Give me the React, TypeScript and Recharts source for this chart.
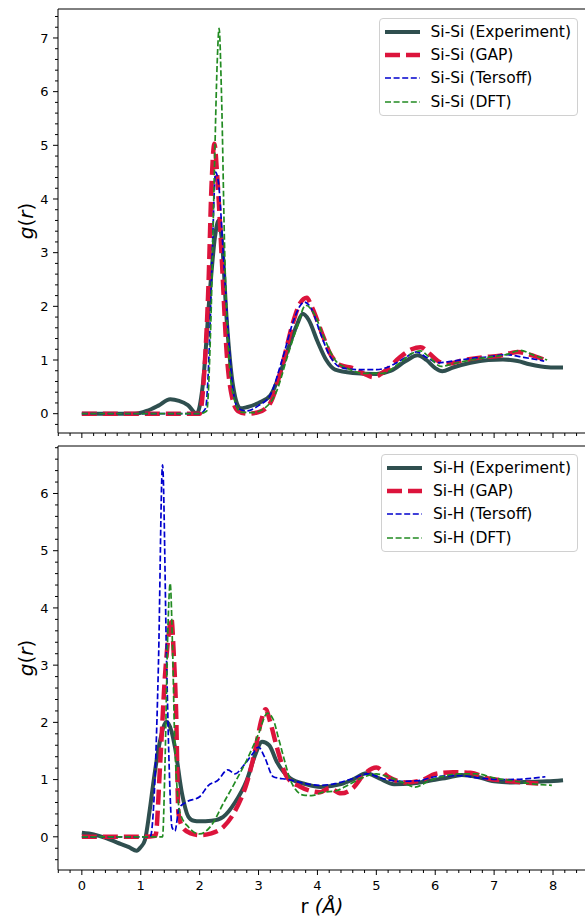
import { LineChart, Line, XAxis, YAxis, ReferenceLine, Legend } from 'recharts'

// ---- Si-Si panel ----
const siSiExpR = [0, 0.5, 0.9, 1.1, 1.3, 1.5, 1.65, 1.8, 1.95, 2.05, 2.18, 2.26, 2.32, 2.38, 2.46, 2.57, 2.69, 2.8, 3.0, 3.2, 3.35, 3.5, 3.65, 3.75, 3.85, 4.0, 4.15, 4.3, 4.6, 5.0, 5.25, 5.5, 5.7, 5.85, 6.0, 6.12, 6.3, 6.6, 6.9, 7.15, 7.4, 7.6, 7.8, 8.0, 8.17]
const siSiExpG = [0, 0, 0, 0.05, 0.15, 0.27, 0.24, 0.16, 0.0, 0.5, 2.36, 3.29, 3.6, 3.2, 1.74, 0.5, 0.1, 0.12, 0.2, 0.34, 0.7, 1.2, 1.65, 1.86, 1.75, 1.35, 1.0, 0.82, 0.76, 0.74, 0.8, 0.98, 1.09, 1.0, 0.85, 0.79, 0.86, 0.95, 1.0, 1.01, 0.98, 0.92, 0.88, 0.86, 0.86]

const siSiGapR = [0, 1.0, 1.5, 2.0, 2.08, 2.15, 2.2, 2.25, 2.3, 2.38, 2.46, 2.55, 2.65, 2.8, 3.0, 3.2, 3.4, 3.6, 3.7, 3.82, 3.9, 4.1, 4.2, 4.4, 4.6, 4.8, 4.95, 5.15, 5.4, 5.6, 5.75, 5.9, 6.05, 6.2, 6.5, 6.8, 7.1, 7.4, 7.6, 7.89]
const siSiGapG = [0, 0, 0, 0, 0.8, 2.4, 4.2, 5.03, 4.4, 2.8, 1.12, 0.31, 0.05, 0.0, 0.03, 0.2, 0.9, 1.75, 2.05, 2.16, 2.0, 1.43, 1.15, 0.9, 0.85, 0.74, 0.68, 0.8, 1.05, 1.2, 1.24, 1.12, 0.98, 0.93, 1.0, 1.05, 1.08, 1.15, 1.1, 0.99]

const siSiTerR = [0, 1.0, 2.0, 2.1, 2.17, 2.22, 2.27, 2.32, 2.4, 2.48, 2.56, 2.65, 2.8, 3.0, 3.2, 3.4, 3.6, 3.7, 3.78, 3.9, 4.05, 4.2, 4.4, 4.7, 5.0, 5.3, 5.5, 5.68, 5.85, 6.05, 6.3, 6.6, 6.9, 7.2, 7.5, 7.85]
const siSiTerG = [0, 0, 0, 0.1, 1.4, 3.2, 4.5, 4.3, 3.0, 1.6, 0.5, 0.1, 0.05, 0.15, 0.35, 1.0, 1.75, 2.0, 2.08, 1.95, 1.5, 1.1, 0.86, 0.82, 0.82, 0.92, 1.05, 1.15, 1.05, 0.95, 0.98, 1.03, 1.06, 1.1, 1.05, 0.98]

const siSiDftR = [0, 1.0, 2.0, 2.12, 2.19, 2.25, 2.3, 2.33, 2.37, 2.43, 2.5, 2.58, 2.7, 2.9, 3.1, 3.3, 3.5, 3.65, 3.8, 3.95, 4.1, 4.3, 4.5, 4.8, 5.1, 5.4, 5.6, 5.75, 5.9, 6.1, 6.3, 6.6, 6.9, 7.2, 7.45, 7.65, 7.9]
const siSiDftG = [0, 0, 0, 0.05, 1.7, 4.5, 6.6, 7.18, 6.0, 2.8, 1.0, 0.3, 0.03, 0.02, 0.1, 0.4, 1.1, 1.6, 2.02, 1.85, 1.45, 1.0, 0.85, 0.75, 0.75, 0.95, 1.12, 1.17, 1.05, 0.88, 0.93, 1.0, 1.05, 1.1, 1.18, 1.1, 1.0]

// ---- Si-H panel ----
const siHExpR = [0, 0.2, 0.4, 0.6, 0.8, 0.93, 1.0, 1.07, 1.15, 1.22, 1.33, 1.44, 1.52, 1.58, 1.7, 1.81, 1.9, 2.0, 2.2, 2.4, 2.6, 2.8, 2.95, 3.06, 3.18, 3.31, 3.54, 3.8, 4.05, 4.4, 4.6, 4.83, 5.05, 5.3, 5.6, 5.9, 6.2, 6.45, 6.7, 7.0, 7.3, 7.6, 7.9, 8.17]
const siHExpG = [0.07, 0.04, -0.02, -0.1, -0.18, -0.245, -0.18, -0.06, 0.45, 0.99, 1.69, 2.01, 1.85, 1.57, 0.76, 0.35, 0.28, 0.27, 0.28, 0.35, 0.6, 0.99, 1.45, 1.66, 1.6, 1.31, 1.02, 0.92, 0.87, 0.92, 1.0, 1.11, 1.02, 0.92, 0.93, 0.98, 1.03, 1.08, 1.05, 0.97, 0.95, 0.96, 0.97, 0.99]

const siHGapR = [0, 0.5, 1.0, 1.25, 1.33, 1.41, 1.47, 1.52, 1.56, 1.6, 1.64, 1.72, 1.85, 2.0, 2.2, 2.4, 2.6, 2.8, 2.95, 3.05, 3.12, 3.2, 3.31, 3.48, 3.7, 3.9, 4.05, 4.2, 4.4, 4.6, 4.8, 5.0, 5.2, 5.5, 5.8, 6.0, 6.3, 6.6, 6.9, 7.2, 7.5, 7.75]
const siHGapG = [0, 0, 0, 0.02, 1.28, 2.79, 3.5, 3.82, 3.2, 2.2, 0.41, 0.15, 0.06, 0.03, 0.06, 0.17, 0.45, 0.94, 1.55, 2.05, 2.23, 2.0, 1.57, 1.05, 0.88, 0.8, 0.78, 0.85, 0.76, 0.85, 1.1, 1.21, 1.05, 0.95, 1.0, 1.1, 1.13, 1.12, 1.02, 0.98, 0.95, 0.93]

const siHTerR = [0, 0.5, 1.0, 1.16, 1.24, 1.3, 1.37, 1.44, 1.49, 1.53, 1.58, 1.65, 1.78, 2.0, 2.15, 2.3, 2.48, 2.6, 2.75, 2.9, 3.0, 3.1, 3.25, 3.5, 3.8, 4.05, 4.3, 4.6, 4.85, 5.1, 5.4, 5.7, 6.0, 6.4, 6.8, 7.2, 7.5, 7.87]
const siHTerG = [0, 0, 0, 0.0, 0.99, 3.0, 6.5, 3.0, 0.99, 0.17, 0.1, 0.5, 0.61, 0.7, 0.9, 0.98, 1.17, 1.1, 1.25, 1.45, 1.57, 1.4, 1.05, 1.0, 0.93, 0.9, 0.93, 1.02, 1.1, 1.02, 0.97, 0.98, 1.05, 1.07, 1.02, 1.0, 1.01, 1.05]

const siHDftR = [0, 0.5, 1.0, 1.3, 1.37, 1.41, 1.46, 1.5, 1.54, 1.58, 1.67, 1.81, 2.0, 2.2, 2.4, 2.6, 2.8, 3.0, 3.15, 3.25, 3.34, 3.45, 3.54, 3.76, 3.9, 4.1, 4.3, 4.55, 4.8, 5.0, 5.2, 5.45, 5.66, 5.9, 6.1, 6.4, 6.7, 7.0, 7.3, 7.6, 7.98]
const siHDftG = [0, 0, 0, 0, 0.0, 1.2, 3.6, 4.43, 3.3, 1.57, 0.41, 0.17, 0.05, 0.2, 0.58, 0.95, 1.34, 1.8, 2.16, 2.05, 1.72, 1.3, 0.99, 0.73, 0.72, 0.78, 0.8, 0.92, 1.05, 1.1, 1.05, 0.95, 0.87, 0.98, 1.05, 1.1, 1.1, 1.03, 0.98, 0.93, 0.9]

// ---- axes ----
const xDomain = [-0.405, 8.56]
const siSiDomain = [-0.36, 7.54]
const siHDomain = [-0.58, 6.83]

const FONT = '"DejaVu Sans", Verdana, sans-serif'

// minor ticks every 0.2 inside the domain (integers get labels)
const minorTicks = (lo: number, hi: number) => {
  const out: number[] = []
  for (let k = Math.ceil(lo * 5); k <= Math.floor(hi * 5); k++) out.push(Math.round(k * 20) / 100)
  return out
}

const zip = (r: number[], g: number[]) => r.map((v, i) => ({ r: v, g: g[i] }))

const STYLES = [
  { label: 'Experiment', color: '#2F4F4F', width: 4, dash: undefined },
  { label: 'GAP', color: '#DC143C', width: 4.5, dash: '15 6' },
  { label: 'Tersoff', color: '#0000CD', width: 1.7, dash: '6 2.6' },
  { label: 'DFT', color: '#228B22', width: 1.7, dash: '6 2.6' },
]

const isMajor = (v: number) => Math.abs(v - Math.round(v)) < 1e-6

function XTick({ x, y, payload, showLabel }: any) {
  const major = isMajor(payload.value)
  return (
    <g>
      <line x1={x} x2={x} y1={y} y2={y + (major ? 5 : 3)} stroke="#000" strokeWidth={1} />
      {showLabel && major && (
        <text x={x} y={y + 19.5} textAnchor="middle" fontSize={13} fontFamily={FONT} fill="#000">
          {Math.round(payload.value)}
        </text>
      )}
    </g>
  )
}

function YTick({ x, y, payload }: any) {
  const major = isMajor(payload.value)
  return (
    <g>
      <line x1={x} x2={x - (major ? 5 : 3)} y1={y} y2={y} stroke="#000" strokeWidth={1} />
      {major && (
        <text x={x - 9.5} y={y + 4.7} textAnchor="end" fontSize={13} fontFamily={FONT} fill="#000">
          {Math.round(payload.value)}
        </text>
      )}
    </g>
  )
}

function LegendBox({ prefix }: { prefix: string }) {
  return (
    <div style={{
      border: '1px solid #d0d0d0', borderRadius: 4, background: 'rgba(255,255,255,0.85)',
      padding: '1px 6px 2px 5px', fontFamily: FONT, fontSize: 15.5, color: '#000',
    }}>
      {STYLES.map(s => (
        <div key={s.label} style={{ display: 'flex', alignItems: 'center', height: 23.3, whiteSpace: 'nowrap' }}>
          <svg width={35} height={10} style={{ flexShrink: 0 }}>
            <line x1={0} x2={35} y1={5} y2={5} stroke={s.color} strokeWidth={s.width} strokeDasharray={s.dash} />
          </svg>
          <span style={{ marginLeft: 11 }}>{prefix} ({s.label})</span>
        </div>
      ))}
    </div>
  )
}

function Panel({ series, yDomain, prefix, height, top, legendTop, bottomAxis }: any) {
  const xHeight = bottomAxis ? 47 : 7
  return (
    <LineChart width={600} height={height} margin={{ top, right: 14, bottom: 0, left: 0 }}>
      <XAxis
        type="number" dataKey="r" domain={xDomain} ticks={minorTicks(xDomain[0], xDomain[1])}
        interval={0} height={xHeight} tickSize={0} tickMargin={0} tickLine={false}
        axisLine={{ stroke: '#000', strokeWidth: 1 }}
        tick={(p: any) => <XTick {...p} showLabel={bottomAxis} />}
        label={bottomAxis ? {
          content: (p: any) => {
            const vb = p.viewBox
            return (
              <text x={vb.x + vb.width / 2} y={vb.y + 42.5} textAnchor="middle" fontSize={19.5} fontFamily={FONT} fill="#000">
                r <tspan fontStyle="italic">(Å)</tspan>
              </text>
            )
          },
        } : undefined}
      />
      <YAxis
        type="number" domain={yDomain} ticks={minorTicks(yDomain[0], yDomain[1])}
        interval={0} width={58} tickSize={0} tickMargin={0} tickLine={false}
        axisLine={{ stroke: '#000', strokeWidth: 1 }}
        tick={(p: any) => <YTick {...p} />}
        label={{
          content: (p: any) => {
            const vb = p.viewBox
            const cy = vb.y + vb.height / 2
            return (
              <text x={25.5} y={cy} transform={`rotate(-90 25.5 ${cy})`} textAnchor="middle"
                dominantBaseline="central" fontSize={20} fontFamily={FONT} fill="#000">
                <tspan fontStyle="italic">g</tspan>(<tspan fontStyle="italic">r</tspan>)
              </text>
            )
          },
        }}
      />
      <ReferenceLine y={yDomain[1]} stroke="#000" strokeWidth={1} />
      <ReferenceLine x={xDomain[1]} stroke="#000" strokeWidth={1} />
      {series.map((s: any, i: number) => (
        <Line
          key={i} data={s.data} dataKey="g" type="monotone" dot={false} activeDot={false}
          stroke={STYLES[i].color} strokeWidth={STYLES[i].width} strokeDasharray={STYLES[i].dash}
          strokeLinejoin="round" isAnimationActive={false}
        />
      ))}
      <Legend
        layout="vertical" align="center" verticalAlign="middle"
        wrapperStyle={{ right: 22, top: legendTop, left: 'auto', width: 'auto' }}
        content={() => <LegendBox prefix={prefix} />}
      />
    </LineChart>
  )
}

export default function App() {
  const siSi = [
    { data: zip(siSiExpR, siSiExpG) },
    { data: zip(siSiGapR, siSiGapG) },
    { data: zip(siSiTerR, siSiTerG) },
    { data: zip(siSiDftR, siSiDftG) },
  ]
  const siH = [
    { data: zip(siHExpR, siHExpG) },
    { data: zip(siHGapR, siHGapG) },
    { data: zip(siHTerR, siHTerG) },
    { data: zip(siHDftR, siHDftG) },
  ]
  return (
    <div style={{ position: 'absolute', left: 0, top: 0, width: 585, height: 917, overflow: 'hidden', background: '#fff' }}>
      <Panel series={siSi} yDomain={siSiDomain} prefix="Si-Si"
        height={440} top={9} legendTop={18} bottomAxis={false} />
      <Panel series={siH} yDomain={siHDomain} prefix="Si-H"
        height={477} top={6} legendTop={14} bottomAxis={true} />
    </div>
  )
}
